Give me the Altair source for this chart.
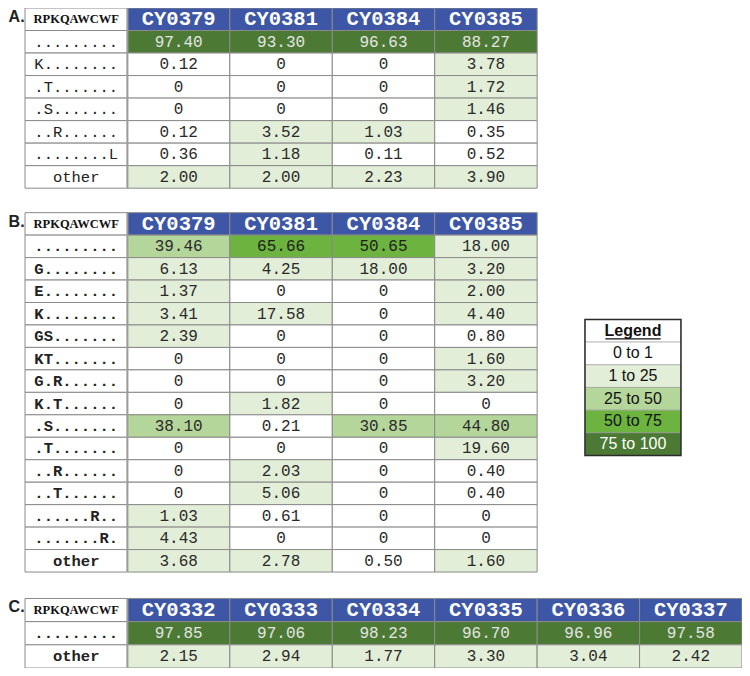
import altair as alt
import pandas as pd

# ---------------- data ----------------
corner_label = "RPKQAWCWF"
panel_letters = ["A.", "B.", "C."]

a_cols = ["CY0379", "CY0381", "CY0384", "CY0385"]
a_rows = [".........", "K........", ".T.......", ".S.......", "..R......", "........L", "other"]
a_CY0379 = [97.40, 0.12, 0, 0, 0.12, 0.36, 2.00]
a_CY0381 = [93.30, 0, 0, 0, 3.52, 1.18, 2.00]
a_CY0384 = [96.63, 0, 0, 0, 1.03, 0.11, 2.23]
a_CY0385 = [88.27, 3.78, 1.72, 1.46, 0.35, 0.52, 3.90]

b_cols = ["CY0379", "CY0381", "CY0384", "CY0385"]
b_rows = [".........", "G........", "E........", "K........", "GS.......", "KT.......",
          "G.R......", "K.T......", ".S.......", ".T.......", "..R......", "..T......",
          "......R..", ".......R.", "other"]
b_CY0379 = [39.46, 6.13, 1.37, 3.41, 2.39, 0, 0, 0, 38.10, 0, 0, 0, 1.03, 4.43, 3.68]
b_CY0381 = [65.66, 4.25, 0, 17.58, 0, 0, 0, 1.82, 0.21, 0, 2.03, 5.06, 0.61, 0, 2.78]
b_CY0384 = [50.65, 18.00, 0, 0, 0, 0, 0, 0, 30.85, 0, 0, 0, 0, 0, 0.50]
b_CY0385 = [18.00, 3.20, 2.00, 4.40, 0.80, 1.60, 3.20, 0, 44.80, 19.60, 0.40, 0.40, 0, 0, 1.60]

c_cols = ["CY0332", "CY0333", "CY0334", "CY0335", "CY0336", "CY0337"]
c_rows = [".........", "other"]
c_CY0332 = [97.85, 2.15]
c_CY0333 = [97.06, 2.94]
c_CY0334 = [98.23, 1.77]
c_CY0335 = [96.70, 3.30]
c_CY0336 = [96.96, 3.04]
c_CY0337 = [97.58, 2.42]

legend_title = "Legend"
legend_bins = ["0 to 1", "1 to 25", "25 to 50", "50 to 75", "75 to 100"]
bin_edges = [0, 1, 25, 50, 75, 100]

# ---------------- layout (units: columns / rows) ----------------
tables = [
    dict(letter=panel_letters[0], cols=a_cols, rows=a_rows,
         vals=[a_CY0379, a_CY0381, a_CY0384, a_CY0385], bold=False, top=0.0, bottom=8.0),
    dict(letter=panel_letters[1], cols=b_cols, rows=b_rows,
         vals=[b_CY0379, b_CY0381, b_CY0384, b_CY0385], bold=True, top=9.087, bottom=25.043),
    dict(letter=panel_letters[2], cols=c_cols, rows=c_rows,
         vals=[c_CY0332, c_CY0333, c_CY0334, c_CY0335, c_CY0336, c_CY0337], bold=True,
         top=26.217, bottom=29.304),
]
LEG_X0, LEG_X1, LEG_TOP, LEG_BOT = 5.467, 6.404, 13.826, 19.870
W, H = 734, 660


def bin_of(v):
    for i in range(len(legend_bins)):
        if v < bin_edges[i + 1] or i == len(legend_bins) - 1:
            return legend_bins[i]


def fmt(v):
    return "0" if v == 0 else f"{v:.2f}"


cells = []
letters = []
dividers = []
for t in tables:
    n = len(t["rows"]) + 1
    h = (t["bottom"] - t["top"]) / n
    letters.append(dict(text=t["letter"], x=-0.16, y=t["top"]))
    dividers.append(dict(x=1, y0=t["top"], y1=t["bottom"]))
    for r in range(n):
        y0 = t["top"] + r * h
        y1 = y0 + h
        for c in range(len(t["cols"]) + 1):
            if r == 0 and c == 0:
                kind, text = "corner", corner_label
            elif r == 0:
                kind, text = "head", t["cols"][c - 1]
            elif c == 0:
                kind, text = "label", t["rows"][r - 1]
            else:
                v = t["vals"][c - 1][r - 1]
                kind, text = bin_of(v), fmt(v)
            cells.append(dict(x0=c, x1=c + 1, xm=c + 0.5, y0=y0, y1=y1, ym=(y0 + y1) / 2,
                              kind=kind, text=text, bold=t["bold"]))
cells = pd.DataFrame(cells)
letters = pd.DataFrame(letters)
dividers = pd.DataFrame(dividers)

lh = (LEG_BOT - LEG_TOP) / (len(legend_bins) + 1)
leg = []
for i, lab in enumerate(["title"] + legend_bins):
    y0 = LEG_TOP + i * lh
    leg.append(dict(x0=LEG_X0, x1=LEG_X1, xm=(LEG_X0 + LEG_X1) / 2, y0=y0, y1=y0 + lh,
                    ym=y0 + lh / 2, kind=("corner" if lab == "title" else lab),
                    text=(legend_title if lab == "title" else lab)))
leg = pd.DataFrame(leg)
leg_frame = pd.DataFrame([dict(x0=LEG_X0, x1=LEG_X1, y0=LEG_TOP, y1=LEG_BOT)])
title_w = 0.27
underline = pd.DataFrame([dict(x0=(LEG_X0 + LEG_X1) / 2 - title_w, x1=(LEG_X0 + LEG_X1) / 2 + title_w,
                               y=LEG_TOP + 0.86 * lh)])

# ---------------- scales ----------------
col_px = (W - 17) / 7.0
xs = alt.Scale(domain=[-17 / col_px, 7.0], nice=False, zero=False)
ys = alt.Scale(domain=[0.0, 29.304], nice=False, zero=False, reverse=True)

fill_dom = ["corner", "label", "head"] + legend_bins
fill_rng = ["#ffffff", "#ffffff", "#3d56a6", "#ffffff", "#e2eed8", "#b5d69b", "#6cb33f", "#4c7a35"]
fill_scale = alt.Scale(domain=fill_dom, range=fill_rng)
text_scale = alt.Scale(domain=legend_bins, range=["#2a2a2a", "#2a2a2a", "#2a2a2a", "#1e1e1e", "#e4e4e4"])
leg_text_scale = alt.Scale(domain=["corner"] + legend_bins,
                           range=["#111111", "#111111", "#111111", "#111111", "#111111", "#ffffff"])

X = lambda f: alt.X(f, type="quantitative", scale=xs, axis=None)
Y = lambda f: alt.Y(f, type="quantitative", scale=ys, axis=None)

base = alt.Chart(cells)

rects = base.mark_rect(stroke="#8a8a8a", strokeWidth=1).encode(
    x=X("x0"), x2="x1", y=Y("y0"), y2="y1",
    color=alt.Color("kind:N", scale=fill_scale, legend=None))

div_rules = alt.Chart(dividers).mark_rule(color="#9c9c9c", strokeWidth=2).encode(
    x=X("x"), y=Y("y0"), y2="y1")

head_txt = base.transform_filter(alt.datum.kind == "head").mark_text(
    font="Liberation Mono", fontWeight="bold", fontSize=20.5, color="white", baseline="middle"
).encode(x=X("xm"), y=Y("ym"), text="text:N")

corner_txt = base.transform_filter(alt.datum.kind == "corner").mark_text(
    font="Liberation Serif", fontWeight="bold", fontSize=12.5, color="#111111", baseline="middle"
).encode(x=X("xm"), y=Y("ym"), text="text:N")

label_txt = base.transform_filter((alt.datum.kind == "label") & (alt.datum.bold == False)).mark_text(
    font="Liberation Mono", fontSize=15.5, color="#222222", baseline="middle"
).encode(x=X("xm"), y=Y("ym"), text="text:N")

label_bold = base.transform_filter((alt.datum.kind == "label") & (alt.datum.bold == True)).mark_text(
    font="Liberation Mono", fontWeight="bold", fontSize=15.5, color="#222222", baseline="middle"
).encode(x=X("xm"), y=Y("ym"), text="text:N")

num_txt = base.transform_filter(alt.FieldOneOfPredicate(field="kind", oneOf=legend_bins)).mark_text(
    font="Liberation Mono", fontSize=16, baseline="middle"
).encode(x=X("xm"), y=Y("ym"), text="text:N",
         color=alt.Color("kind:N", scale=text_scale, legend=None))

letter_txt = alt.Chart(letters).mark_text(
    font="Liberation Sans", fontWeight="bold", fontSize=16, color="#222222", align="left", baseline="top", dy=1
).encode(x=X("x"), y=Y("y"), text="text:N")

leg_rects = alt.Chart(leg).mark_rect(stroke="#9a9a9a", strokeWidth=0.6).encode(
    x=X("x0"), x2="x1", y=Y("y0"), y2="y1",
    color=alt.Color("kind:N", scale=fill_scale, legend=None))

leg_frame_m = alt.Chart(leg_frame).mark_rect(fill=None, fillOpacity=0, stroke="#2b2b2b", strokeWidth=1.5).encode(
    x=X("x0"), x2="x1", y=Y("y0"), y2="y1")

leg_title = alt.Chart(leg).transform_filter(alt.datum.kind == "corner").mark_text(
    font="Liberation Sans", fontWeight="bold", fontSize=16, color="#111111", baseline="middle"
).encode(x=X("xm"), y=Y("ym"), text="text:N")

leg_txt = alt.Chart(leg).transform_filter(alt.datum.kind != "corner").mark_text(
    font="Liberation Sans", fontSize=16, baseline="middle"
).encode(x=X("xm"), y=Y("ym"), text="text:N",
         color=alt.Color("kind:N", scale=leg_text_scale, legend=None))

leg_ul = alt.Chart(underline).mark_rule(color="#111111", strokeWidth=1.3).encode(
    x=X("x0"), x2="x1", y=Y("y"))

chart = alt.layer(
    rects, div_rules, head_txt, corner_txt, label_txt, label_bold, num_txt, letter_txt,
    leg_rects, leg_frame_m, leg_title, leg_txt, leg_ul
).resolve_scale(color="independent").properties(
    width=W, height=H, padding=0, autosize=alt.AutoSizeParams(type="none")
).configure_view(stroke=None)

chart.save("out.html", embed_options={"renderer": "svg", "actions": False})
